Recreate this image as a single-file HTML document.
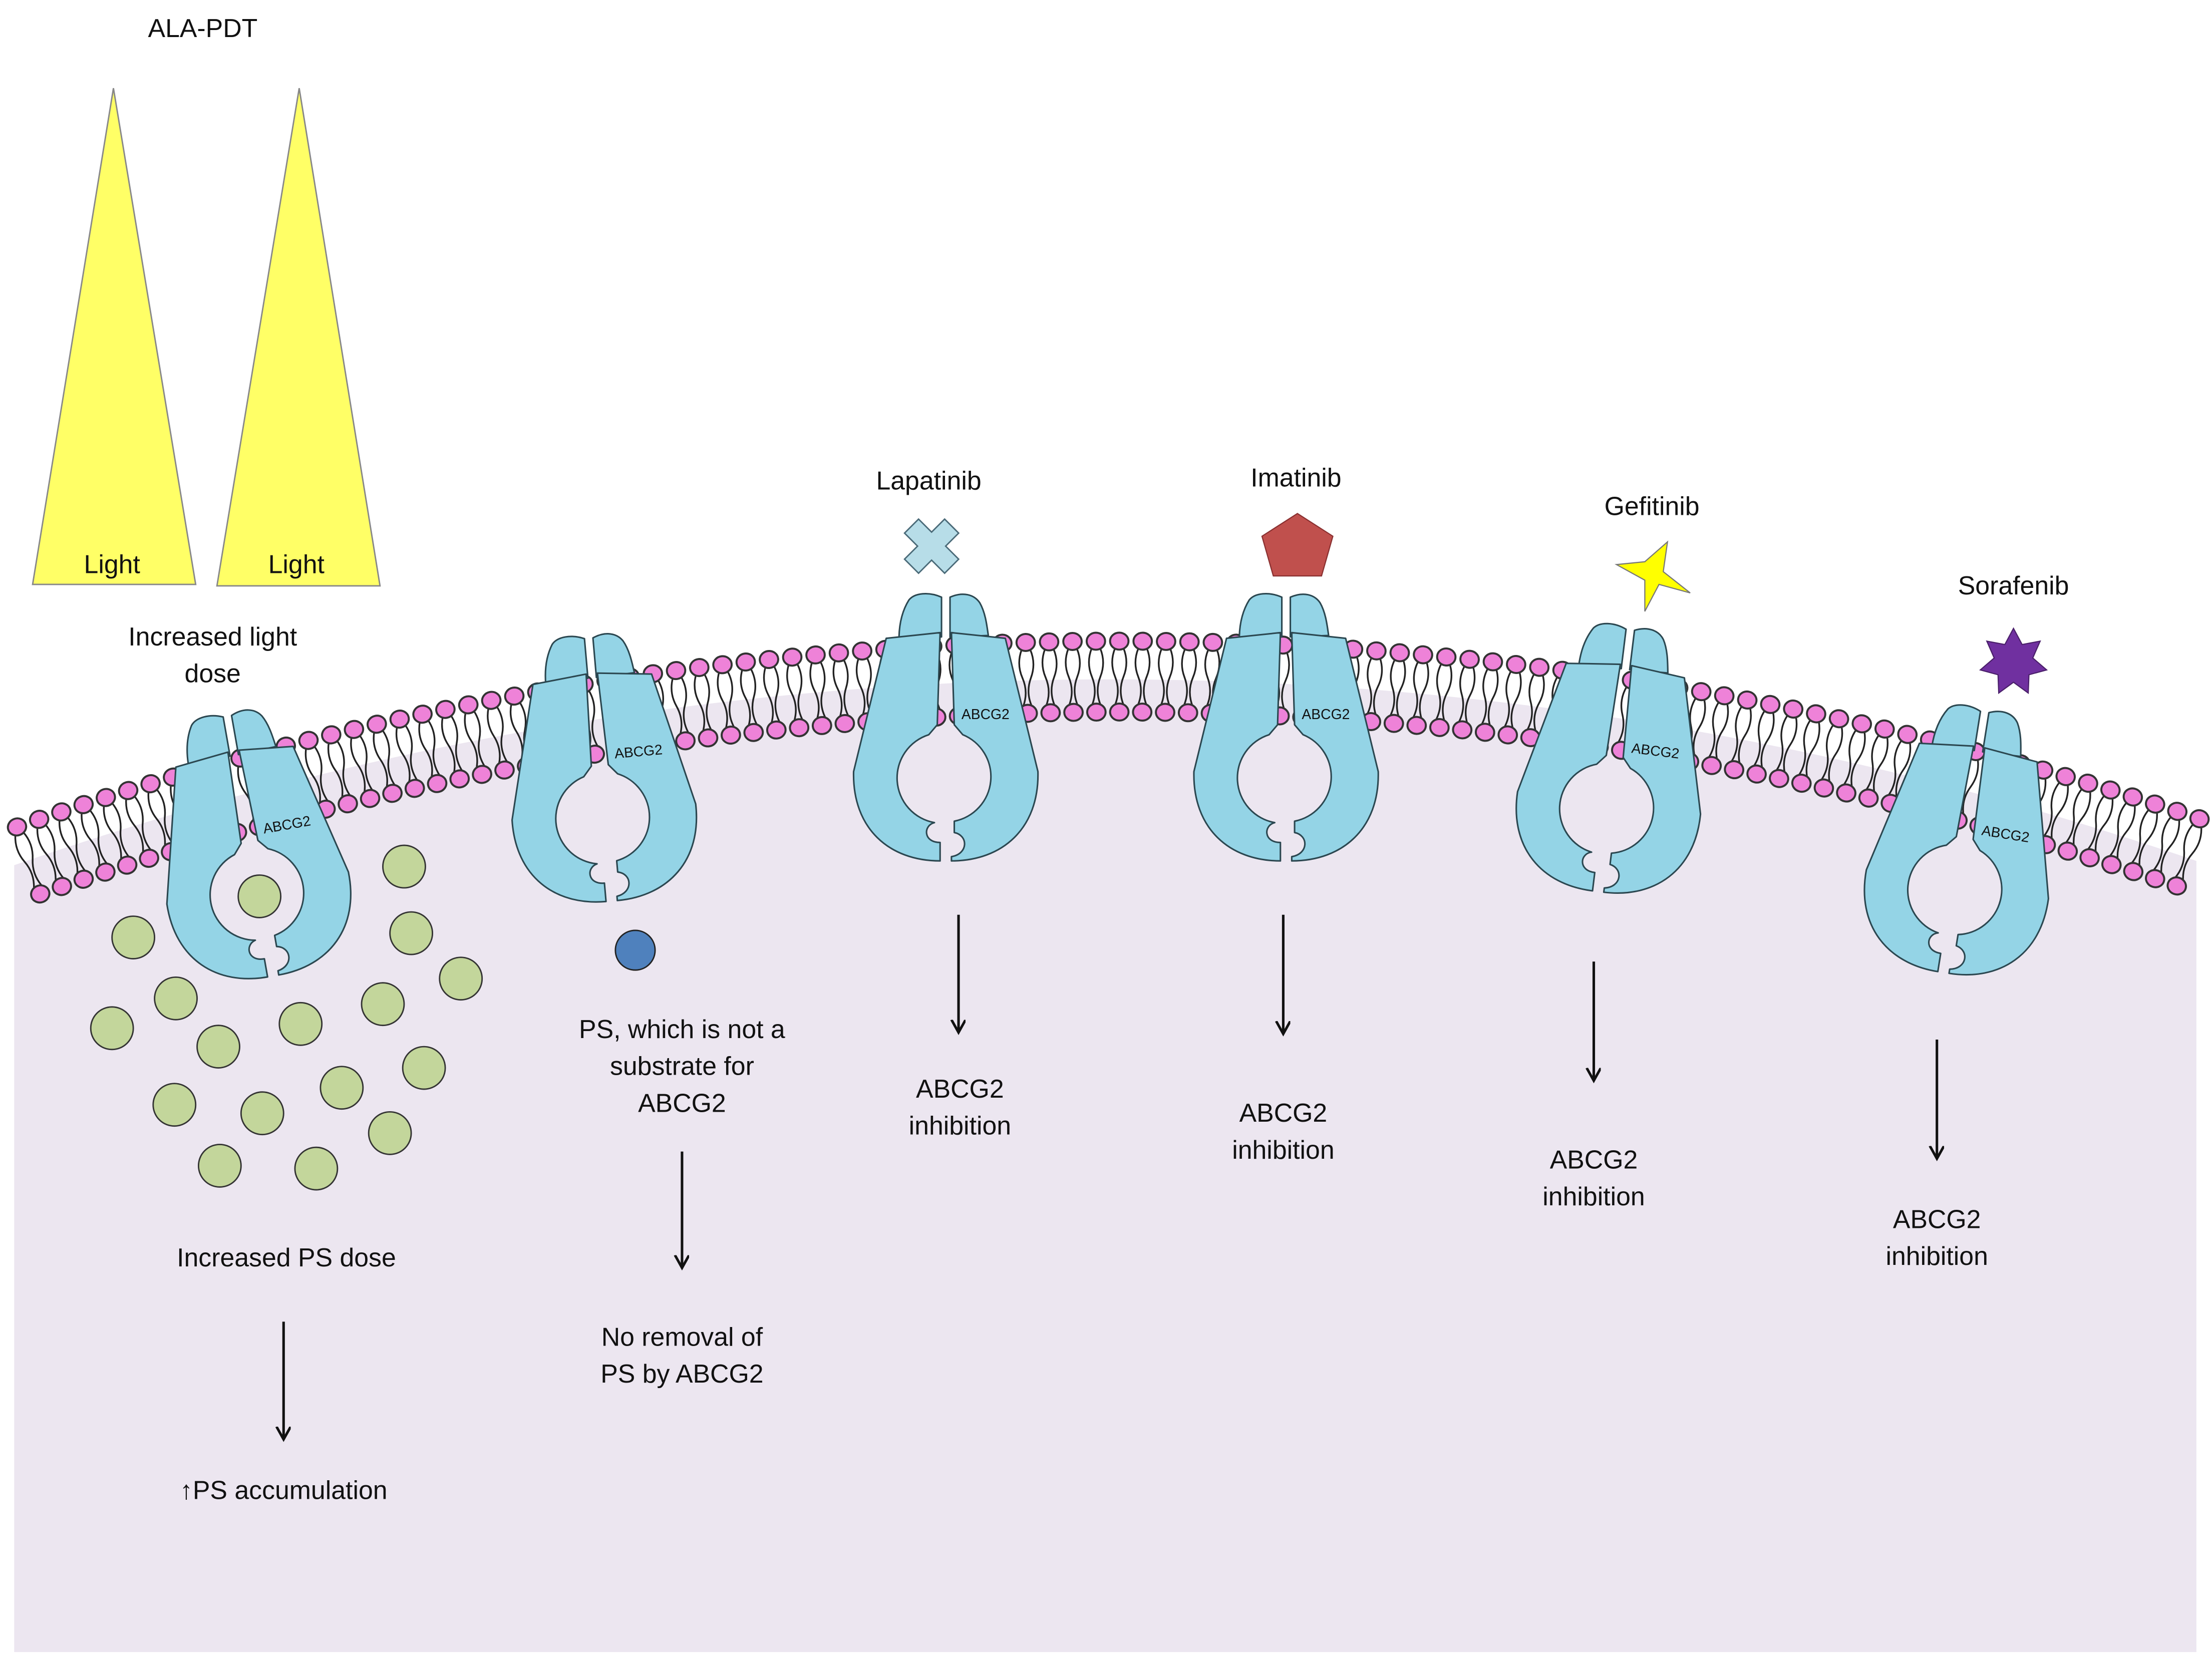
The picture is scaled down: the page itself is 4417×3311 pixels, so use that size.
<!DOCTYPE html>
<html><head><meta charset="utf-8">
<style>
html,body{margin:0;padding:0;background:#fff;}
svg{display:block;}
text{font-family:"Liberation Sans",sans-serif;fill:#111;}
</style></head>
<body>
<svg id="s" xmlns="http://www.w3.org/2000/svg" width="4417" height="3311" viewBox="0 0 1560 1169">
<defs>
<marker id="ah" markerWidth="12" markerHeight="12" refX="9" refY="5" orient="auto" markerUnits="userSpaceOnUse">
<path d="M0,0 L9,5 L0,10" fill="none" stroke="#111" stroke-width="1.8"/>
</marker>
</defs>
<rect width="1560" height="1169" fill="#fff"/>
<path d="M10,610 A2350 2350 0 0 1 1549,607 L1549,1165 L10,1165 Z" fill="#ECE6F0"/>
<g id="mem"></g>
<g id="tr"></g>

<!-- triangles -->
<polygon points="80,62 23,412 138,412" fill="#FFFF66" stroke="#888" stroke-width="1"/>
<polygon points="211,62 153,413 268,413" fill="#FFFF66" stroke="#888" stroke-width="1"/>
<g font-size="18.3" text-anchor="middle">
<text x="79" y="404">Light</text>
<text x="209" y="404">Light</text>
<text x="143" y="26">ALA-PDT</text>
<text x="150" y="455">Increased light</text>
<text x="150" y="481">dose</text>
<text x="655" y="345">Lapatinib</text>
<text x="914" y="343">Imatinib</text>
<text x="1165" y="363">Gefitinib</text>
<text x="1420" y="419">Sorafenib</text>
<text x="481" y="732">PS, which is not a</text>
<text x="481" y="758">substrate for</text>
<text x="481" y="784">ABCG2</text>
<text x="481" y="949">No removal of</text>
<text x="481" y="975">PS by ABCG2</text>
<text x="202" y="893">Increased PS dose</text>
<text x="200" y="1057">↑PS accumulation</text>
<text x="677" y="774">ABCG2</text><text x="677" y="800">inhibition</text>
<text x="905" y="791">ABCG2</text><text x="905" y="817">inhibition</text>
<text x="1124" y="824">ABCG2</text><text x="1124" y="850">inhibition</text>
<text x="1366" y="866">ABCG2</text><text x="1366" y="892">inhibition</text>
</g>
<g stroke="#111" stroke-width="1.8" marker-end="url(#ah)">
<line x1="481" y1="812" x2="481" y2="894"/>
<line x1="200" y1="932" x2="200" y2="1015"/>
<line x1="676" y1="645" x2="676" y2="728"/>
<line x1="905" y1="645" x2="905" y2="729"/>
<line x1="1124" y1="678" x2="1124" y2="762"/>
<line x1="1366" y1="733" x2="1366" y2="817"/>
</g>
<!-- drugs -->
<g transform="translate(657,385) rotate(45)">
<path d="M-7,-20 L7,-20 L7,-7 L20,-7 L20,7 L7,7 L7,20 L-7,20 L-7,7 L-20,7 L-20,-7 L-7,-7 Z" fill="#B7DDE8" stroke="#4a6a78" stroke-width="1"/>
</g>
<polygon points="915,362 940,378 932,406 898,406 890,378" fill="#C0504D" stroke="#8a3030" stroke-width="0.8"/>
<polygon points="1176,382 1173,403 1192,418 1170,412 1160,431 1160,409 1140,398 1160,396" fill="#FFFF00" stroke="#777" stroke-width="0.8"/>
<g id="dots"></g>
<circle cx="448" cy="670" r="14" fill="#4F81BD" stroke="#222" stroke-width="1"/>
</svg>
<script>
var NS="http://www.w3.org/2000/svg";
function el(p,tag,a){var e=document.createElementNS(NS,tag);for(var k in a)e.setAttribute(k,a[k]);p.appendChild(e);return e;}
var mem=document.getElementById('mem');
var cx=790,cy=2827,Ro=2375,Ri=2325;
el(mem,'path',{d:'M0,0',fill:'none'});
var a0=Math.asin(-778/Ro),a1=Math.asin(765/Ro),st=16.5/Ro;
var tails=el(mem,'g',{fill:'none',stroke:'#222','stroke-width':'1.2'});
var heads=el(mem,'g',{fill:'#EE82D8',stroke:'#333','stroke-width':'1.4'});
for(var a=a0;a<=a1;a+=st){
  var deg=a*180/Math.PI;
  var g=el(tails,'g',{transform:'rotate('+deg+' '+cx+' '+cy+')'});
  var t=cy-Ro+5,b=cy-Ri-5,h=(b-t)/4;
  var d='';
  [-3,3].forEach(function(o){
    var x=cx+o,s=(o<0?-1:1);
    d+='M'+x+','+t+' Q'+(x+4*s)+','+(t+h)+' '+x+','+(t+2*h)+' Q'+(x-4*s)+','+(t+3*h)+' '+x+','+b+' ';
  });
  el(g,'path',{d:d});
  var hg=el(heads,'g',{transform:'rotate('+deg+' '+cx+' '+cy+')'});
  el(hg,'ellipse',{cx:cx,cy:cy-Ro,rx:6.5,ry:6});
  el(hg,'ellipse',{cx:cx,cy:cy-Ri,rx:6.5,ry:6});
}
// transporters
var tr=document.getElementById('tr');
var T=[[160,503,-10],[415,448,-5],[667,419,0],[907,419,0],[1150,442,7],[1400,500,9]];
T.forEach(function(p){
  var g=el(tr,'g',{transform:'translate('+p[0]+','+p[1]+') rotate('+p[2]+')',fill:'#94D4E6',stroke:'#2b4750','stroke-width':'1.1','stroke-linejoin':'round'});
  el(g,'path',{d:'M-3,30 L-3,2 C-12,-2 -22,-1 -26,4 C-31,12 -33,22 -33,32 Z'});
  el(g,'path',{d:'M3,30 L3,2 C12,-2 20,0 24,6 C28,13 29,22 30,29 Z'});
  el(g,'path',{d:'M-4,27 L-42,31 L-65,125 C-66,165 -40,188 -4,188 L-4,175 C-16,175 -16,163 -8,161 A32 32 0 0 1 -12,99 L-6,92 Z'});
  el(g,'path',{d:'M4,27 L42,31 L65,125 C66,165 40,188 4,188 L4,185 C16,183 16,170 6,168 L6,160 A32 32 0 0 0 12,99 L6,92 Z'});
  var t=el(g,'text',{x:28,y:88,'font-size':'10','text-anchor':'middle',fill:'#1a2a30',stroke:'none'});
  t.textContent='ABCG2';
});
// green dots
var dots=document.getElementById('dots');
[[183,632],[285,611],[94,661],[290,658],[325,690],[124,704],[270,708],[212,722],[79,725],[154,738],[299,753],[241,767],[123,779],[185,785],[275,799],[155,822],[223,824]].forEach(function(c){
  el(dots,'circle',{cx:c[0],cy:c[1],r:15,fill:'#C3D69B',stroke:'#333','stroke-width':'1'});
});
// sorafenib 7-point star
var pts=[],sx=1420,sy=467;
for(var i=0;i<14;i++){var r=(i%2==0)?24:14,an=-Math.PI/2+i*Math.PI/7;pts.push((sx+r*Math.cos(an)).toFixed(1)+','+(sy+r*Math.sin(an)).toFixed(1));}
el(document.getElementById('s'),'polygon',{points:pts.join(' '),fill:'#7030A0',stroke:'#4a1f6a','stroke-width':'0.8'});
</script>
</body></html>
